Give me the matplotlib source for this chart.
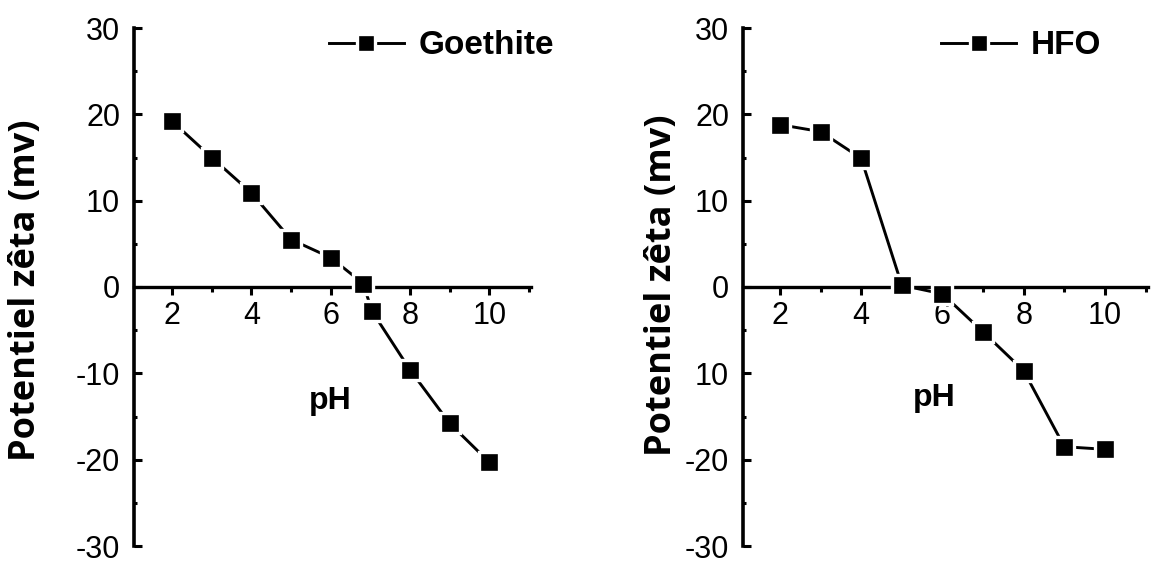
import matplotlib
matplotlib.use("Agg")
import matplotlib.pyplot as plt
from matplotlib.ticker import MultipleLocator, FixedLocator, FixedFormatter

# ---- data ----
goethite_ph = [2, 3, 4, 5, 6, 6.82, 7.04, 8, 9, 10]
goethite_zeta = [19.2, 15.0, 10.9, 5.5, 3.4, 0.4, -2.8, -9.6, -15.8, -20.3]

hfo_ph = [2, 3, 4, 5, 6, 7, 8, 9, 10]
hfo_zeta = [18.8, 18.0, 14.9, 0.2, -0.8, -5.2, -9.7, -18.5, -18.8]

x_ticks = [2, 4, 6, 8, 10]
y_ticks = [30, 20, 10, 0, -10, -20, -30]
left_ylabels = ["30", "20", "10", "0", "-10", "-20", "-30"]
right_ylabels = ["30", "20", "10", "0", "10", "-20", "-30"]

ylabel_text = "Potentiel zêta (mv)"
xlabel_text = "pH"

plt.rcParams["font.family"] = ["Liberation Sans", "DejaVu Sans"]
plt.rcParams["axes.unicode_minus"] = False

W, H = 1156, 563
fig = plt.figure(figsize=(W / 100, H / 100), dpi=100)


def make_axes(rect_px, xlim, ph, zeta, yticklabels, label, legend_px, ph_pos, ylab_px):
    x0, x1, ytop, ybot = rect_px
    ax = fig.add_axes([x0 / W, 1 - ybot / H, (x1 - x0) / W, (ybot - ytop) / H])
    ax.set_xlim(*xlim)
    ax.set_ylim(-30, 30)
    # white marker edge reproduces the small gap between line and symbol
    ax.plot(ph, zeta, color="black", lw=2.1, marker="s", ms=14.5, mew=2.4,
            markerfacecolor="black", markeredgecolor="white", label=label,
            clip_on=False, zorder=3)
    for s in ["top", "right"]:
        ax.spines[s].set_visible(False)
    ax.spines["left"].set_linewidth(2.6)
    ax.spines["bottom"].set_linewidth(2.4)
    ax.spines["bottom"].set_position(("data", 0))
    ax.spines["bottom"].set_zorder(2)
    ax.xaxis.set_major_locator(FixedLocator(x_ticks))
    ax.xaxis.set_minor_locator(MultipleLocator(1))
    ax.yaxis.set_major_locator(FixedLocator(y_ticks))
    ax.yaxis.set_major_formatter(FixedFormatter(yticklabels))
    ax.yaxis.set_minor_locator(MultipleLocator(5))
    ax.tick_params(axis="y", which="major", direction="in", length=6, width=2.2,
                   pad=10, labelsize=22)
    ax.tick_params(axis="y", which="minor", direction="in", length=2.5, width=2.2)
    ax.tick_params(axis="x", which="major", direction="out", length=6, width=2.2,
                   pad=4, labelsize=22)
    ax.tick_params(axis="x", which="minor", direction="out", length=3.5, width=2.2)
    ax.text(ph_pos[0], ph_pos[1], xlabel_text, ha="center", va="center",
            fontfamily="Liberation Sans", fontweight="bold", fontsize=23)
    ax.patch.set_alpha(0)
    ax.legend(loc="center left",
              bbox_to_anchor=(legend_px[0] / W, 1 - legend_px[1] / H),
              bbox_transform=fig.transFigure, frameon=False,
              borderpad=0, borderaxespad=0, handlelength=2.25,
              handletextpad=0.45, numpoints=1, markerscale=0.85,
              prop=dict(family="Liberation Sans", weight="bold", size=24))
    fig.text(ylab_px[0] / W, 1 - ylab_px[1] / H, ylabel_text, rotation=90,
             ha="center", va="center", fontfamily="Open Sans",
             fontweight="bold", fontsize=26)
    return ax


make_axes((134, 531, 28, 546), (1.04, 11.05), goethite_ph, goethite_zeta,
          left_ylabels, "Goethite", (329, 46), (6.0, -13.2), (26, 290))
make_axes((743, 1148, 28, 546), (1.09, 11.06), hfo_ph, hfo_zeta,
          right_ylabels, "HFO", (941, 46), (5.8, -12.9), (662, 285))

fig.savefig("out.png", dpi=100, facecolor="white")
